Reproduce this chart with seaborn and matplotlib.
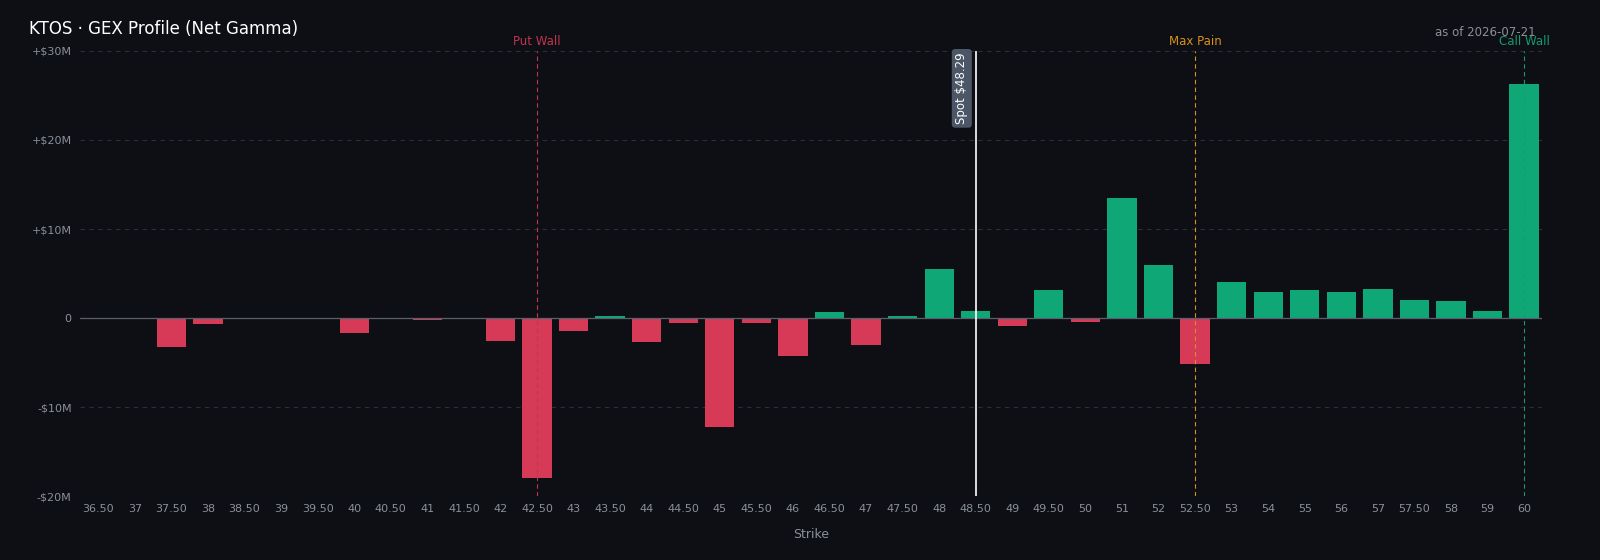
import matplotlib
matplotlib.use("Agg")
import matplotlib.pyplot as plt
import seaborn as sns
import pandas as pd

# Strike categories and net gamma exposure ($M)
strikes = ["36.50", "37", "37.50", "38", "38.50", "39", "39.50", "40", "40.50", "41",
           "41.50", "42", "42.50", "43", "43.50", "44", "44.50", "45", "45.50", "46",
           "46.50", "47", "47.50", "48", "48.50", "49", "49.50", "50", "51", "52",
           "52.50", "53", "54", "55", "56", "57", "57.50", "58", "59", "60"]
gex = [0.05, 0.05, -3.3, -0.7, 0.0, -0.1, 0.0, -1.7, 0.0, -0.2,
       0.0, -2.6, -18.0, -1.4, 0.2, -2.7, -0.6, -12.2, -0.5, -4.3,
       0.7, -3.0, 0.2, 5.5, 0.8, -0.9, 3.1, -0.4, 13.5, 6.0,
       -5.2, 4.1, 2.9, 3.1, 2.9, 3.3, 2.0, 1.9, 0.8, 26.3]
yticks = [-20, -10, 0, 10, 20, 30]
ytick_labels = ["-$20M", "-$10M", "0", "+$10M", "+$20M", "+$30M"]

BG = "#0d0f14"
GREEN = "#10a777"
RED = "#d63a57"

df = pd.DataFrame({"strike": strikes, "gex": gex})
df["sign"] = ["pos" if v >= 0 else "neg" for v in gex]

sns.set_theme(style="dark")
plt.rcParams["font.family"] = ["DejaVu Sans"]
plt.rcParams["text.parse_math"] = False

fig = plt.figure(figsize=(16, 5.6), dpi=100, facecolor=BG)
ax = fig.add_axes([0.05, 0.114, 0.914, 0.795])
ax.set_facecolor(BG)

sns.barplot(data=df, x="strike", y="gex", hue="sign",
            palette={"pos": GREEN, "neg": RED}, width=0.8,
            dodge=False, legend=False, ax=ax, saturation=1, linewidth=0)

ax.set_xlim(-0.5, 39.5)
ax.set_ylim(-20, 30)
ax.set_yticks(yticks)
ax.set_yticklabels(ytick_labels)
ax.grid(axis="y", color="#2a2f38", linestyle=(0, (4, 4)), linewidth=0.8)
ax.axhline(0, color="#5a606b", linewidth=0.9)
for s in ax.spines.values():
    s.set_visible(False)
ax.tick_params(colors="#8a909a", labelsize=8, length=0, pad=6)
ax.set_xlabel("Strike", color="#8a909a", fontsize=9, labelpad=10)
ax.set_ylabel("")

def vline(label, color, txt):
    i = strikes.index(label)
    ax.axvline(i, color=color, linestyle=(0, (4, 3)), linewidth=0.8)
    ax.text(i, 30.3, txt, color=color, fontsize=8.5, ha="center", va="bottom")

vline("42.50", "#c0354f", "Put Wall")
vline("52.50", "#d8901a", "Max Pain")
vline("60", "#169a6f", "Call Wall")

spot_x = strikes.index("48.50")
ax.axvline(spot_x, color="white", linewidth=1.2)
ax.text(spot_x - 0.38, 25.8, "Spot $48.29", rotation=90, color="white", fontsize=8.5,
        ha="center", va="center",
        bbox=dict(boxstyle="round,pad=0.3", fc="#4b5666", ec="none"))

fig.text(0.018, 0.94, "KTOS · GEX Profile (Net Gamma)", color="white", fontsize=12)
fig.text(0.960, 0.935, "as of 2026-07-21", color="#8a909a", fontsize=8.5, ha="right")

fig.savefig("out.png", dpi=100, facecolor=BG)
